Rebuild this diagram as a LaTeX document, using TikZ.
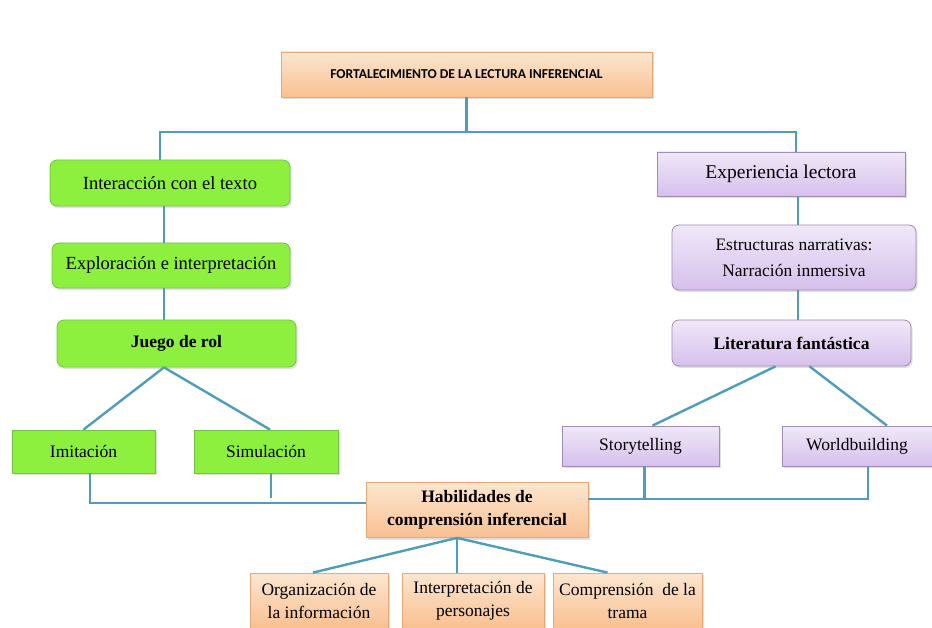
\documentclass[tikz,border=0pt]{standalone}
\usepackage{fontspec}
\setmainfont{Liberation Serif}
\newfontfamily\titlefont{Carlito}
\usetikzlibrary{shadows}

\definecolor{linea}{RGB}{78,158,186}
\definecolor{verde}{RGB}{142,240,62}
\definecolor{verdeborde}{RGB}{112,196,70}
\definecolor{lilaclaro}{RGB}{240,232,248}
\definecolor{lila}{RGB}{214,192,236}
\definecolor{lilaborde}{RGB}{160,140,182}
\definecolor{naranjaclaro}{RGB}{253,230,208}
\definecolor{naranja}{RGB}{249,192,145}
\definecolor{naranjaborde}{RGB}{232,168,118}

\begin{document}
\begin{tikzpicture}[x=1pt, y=-1pt,
  caja/.style={draw, line width=0.8pt, align=center, inner sep=0pt,
    font=\fontsize{17.5}{23}\selectfont,
    drop shadow={opacity=0.25, shadow xshift=1.5pt, shadow yshift=-2pt}},
  tam/.style 2 args={minimum width=#1pt, minimum height=#2pt},
  verdebox/.style={caja, fill=verde, draw=verdeborde},
  lilabox/.style={caja, top color=lilaclaro, bottom color=lila, draw=lilaborde},
  naranjabox/.style={caja, top color=naranjaclaro, bottom color=naranja, draw=naranjaborde},
  redondo/.style={rounded corners=7pt},
  grande/.style={font=\fontsize{#1}{23}\selectfont},
  negrita/.style={font=\fontsize{17.5}{23}\selectfont\bfseries},
  conector/.style={draw=linea, line width=2.4pt}]

  \useasboundingbox (0,0) rectangle (932,628);

  % title
  \node[naranjabox, tam={371}{45}, font=\titlefont\bfseries\fontsize{13.6}{15}\selectfont]
    (titulo) at (466.5,74.5) {FORTALECIMIENTO DE LA LECTURA INFERENCIAL};

  % left branch
  \node[verdebox, redondo, tam={240}{46}, grande=18.5] (interaccion) at (170,183) {Interacción con el texto};
  \node[verdebox, redondo, tam={238}{45}, grande=18.5] (exploracion) at (171,265.5) {Exploración e interpretación};
  \node[verdebox, redondo, tam={239}{47}, negrita] (juego) at (176.5,343.5) {Juego de rol};
  \node[verdebox, tam={143}{43}] (imitacion) at (83.5,451.5) {Imitación};
  \node[verdebox, tam={144}{43}] (simulacion) at (266,451.5) {Simulación};

  % right branch
  \node[lilabox, tam={248}{44}, grande=19.5] (experiencia) at (781,174) {Experiencia lectora};
  \node[lilabox, redondo, tam={244}{65}] (estructuras) at (794,257.5)
    {Estructuras narrativas:\\[3pt]Narración inmersiva};
  \node[lilabox, redondo, tam={239}{46}, negrita] (literatura) at (791.5,343) {Literatura fantástica};
  \node[lilabox, tam={157}{40}] (storytelling) at (640.5,446) {\raisebox{2pt}{Storytelling}};
  \node[lilabox, tam={150}{40}] (worldbuilding) at (857,446) {\raisebox{4pt}{Worldbuilding}};

  % bottom
  \node[naranjabox, tam={222}{55}, negrita] (habilidades) at (477,510) {Habilidades de\\comprensión inferencial};
  \node[naranjabox, tam={138}{55}] (organizacion) at (319,600.5) {Organización de\\la información};
  \node[naranjabox, tam={142}{55}] (interpretacion) at (473,600.5) {Interpretación de\\personajes};
  \node[naranjabox, tam={149}{55}] (comprension) at (627.5,600.5) {Comprensión\ \ de la\\trama};

  \coordinate (izq) at (160,132);
  \coordinate (der) at (796,132);
  \coordinate (ejeizq) at (164,0);
  \coordinate (ejeder) at (798,0);
  \coordinate (baseizq) at (90,503);
  \coordinate (baseder) at (868,499);

  \draw[conector] (titulo.south) -- (titulo.south |- izq);
  \draw[conector] (interaccion.north -| izq) -- (izq) -- (der) -- (experiencia.north -| der);
  \draw[conector] (interaccion.south -| ejeizq) -- (exploracion.north -| ejeizq);
  \draw[conector] (exploracion.south -| ejeizq) -- (juego.north -| ejeizq);
  \draw[conector] (juego.south -| ejeizq) -- (imitacion.north);
  \draw[conector] (juego.south -| ejeizq) -- ([xshift=4pt]simulacion.north);
  \draw[conector] (imitacion.south -| baseizq) -- (baseizq) -- (baseizq -| habilidades.west);
  \draw[conector] ([xshift=5pt]simulacion.south) -- ++(0,25);

  \draw[conector] (experiencia.south -| ejeder) -- (estructuras.north -| ejeder);
  \draw[conector] (estructuras.south -| ejeder) -- (literatura.north -| ejeder);
  \draw[conector] ([xshift=-16pt]literatura.south) -- ([xshift=12pt]storytelling.north);
  \draw[conector] ([xshift=18pt]literatura.south) -- ([xshift=30pt]worldbuilding.north);
  \draw[conector] ([xshift=4pt]storytelling.south) -- ([xshift=4pt]storytelling.south |- baseder);
  \draw[conector] (habilidades.east |- baseder) -- (baseder) -- (baseder |- worldbuilding.south);

  \draw[conector] ([xshift=-20pt]habilidades.south) -- ([xshift=-6pt]organizacion.north);
  \draw[conector] ([xshift=-20pt]habilidades.south) -- ([xshift=-16pt]interpretacion.north);
  \draw[conector] ([xshift=-20pt]habilidades.south) -- ([xshift=-20pt]comprension.north);

\end{tikzpicture}
\end{document}
